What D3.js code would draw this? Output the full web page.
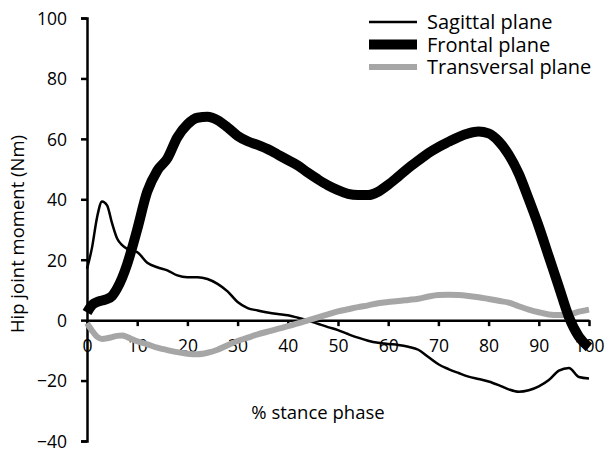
<!DOCTYPE html>
<html lang="en">
<head>
<meta charset="UTF-8">
<title>Hip joint moment</title>
<style>
  body { margin: 0; background: #fff; }
  text { font-family: "Open Sans", sans-serif; fill: #000; }
</style>
</head>
<body>
<script src="https://cdn.jsdelivr.net/npm/d3@7"></script>
<script>
// % stance phase
var pct = [0, 1, 2, 3, 4, 5, 6, 7, 8, 9, 10, 12, 14, 16, 18, 20, 22, 24, 26, 28, 30, 32, 34, 36, 38, 40,
           42, 44, 46, 48, 50, 52, 54, 56, 58, 60, 62, 64, 66, 68, 70, 72, 74, 76, 78, 80,
           82, 84, 86, 88, 90, 92, 94, 96, 98, 100];

var sagittal = [17, 24, 34, 39.3, 38, 32, 27, 24.8, 23.6, 23, 22.5, 19, 17.5, 16.5, 14.8, 14.2, 14.2, 13.6, 12, 9.5,
                6, 4, 3.2, 2.5, 2, 1.6, 0.8, -0.1, -1.2, -2.3, -3.3, -4.6, -5.8, -6.8, -7.5, -7.9, -8.2, -8.8, -9.8, -12.2,
                -14.6, -16.2, -17.5, -18.7, -19.5, -20.3, -21.5, -22.9, -23.7, -23.2, -21.9, -19.8, -16.7, -15.8, -18.8, -19.3];

var frontal = [2.5, 5, 6, 6.5, 7, 8, 10.5, 14, 18.5, 24, 30, 42.5, 49.5, 53.5, 60.5, 64.8, 67, 67.3, 66.2, 63.8,
               61, 59.2, 58, 56.6, 54.8, 53, 51.2, 48.8, 46.6, 44.6, 43, 41.8, 41.4, 41.4, 42.5, 44.8, 47.5, 50.3, 52.8, 55.3,
               57.3, 59, 60.6, 61.8, 62.4, 61.8, 59.2, 54.8, 48.5, 40, 31, 21, 11, 1, -5.5, -9];

var transversal = [-1, -3.5, -5.5, -6.2, -6, -5.6, -5.2, -5.1, -5.6, -6.3, -7, -8, -9.1, -9.9, -10.6, -11.1, -11.3, -10.8, -9.8, -8.3,
                   -6.9, -5.8, -4.7, -3.8, -2.9, -2, -1.1, -0.1, 0.9, 1.9, 2.9, 3.6, 4.3, 4.9, 5.6, 6, 6.3, 6.7, 7.1, 7.8,
                   8.3, 8.4, 8.3, 8, 7.6, 7, 6.4, 5.8, 4.6, 3.5, 2.6, 1.9, 1.7, 1.9, 2.8, 3.5];

var xTicks = [0, 10, 20, 30, 40, 50, 60, 70, 80, 90, 100];
var yTicks = [-40, -20, 0, 20, 40, 60, 80, 100];

var seriesNames = ["Sagittal plane", "Frontal plane", "Transversal plane"];
var seriesData = [sagittal, frontal, transversal];
var seriesColor = ["#000", "#000", "#a6a6a6"];
var seriesWidth = [2.5, 10, 6];

var width = 611, height = 462;
var svg = d3.select("body").append("svg")
  .attr("width", width)
  .attr("height", height);

var x = d3.scaleLinear().domain([0, 100]).range([87, 589]);
var y = d3.scaleLinear().domain([-40, 100]).range([441, 18]);

// y axis
var yAxis = d3.axisLeft(y).tickValues(yTicks).tickSize(6).tickPadding(14);
var gy = svg.append("g").attr("transform", "translate(" + x(0) + ",0)").call(yAxis);
gy.select(".domain").attr("stroke-width", 2.5);
gy.selectAll(".tick line").attr("stroke-width", 2.5);
gy.selectAll(".tick text").style("font-size", "17.5px").attr("dy", "0.36em");

// x axis at y = 0
var xAxis = d3.axisBottom(x).tickValues(xTicks).tickSize(6).tickSizeOuter(0).tickPadding(13);
var gx = svg.append("g").attr("transform", "translate(0," + y(0) + ")").call(xAxis);
gx.select(".domain").attr("stroke-width", 2.5);
gx.selectAll(".tick line").attr("stroke-width", 2.5);
gx.selectAll(".tick text").style("font-size", "17.5px");

var line = d3.line()
  .x(function(d, i) { return x(pct[i]); })
  .y(function(d) { return y(d); })
  .curve(d3.curveMonotoneX);

// draw order: sagittal, transversal, frontal
[0, 2, 1].forEach(function(k) {
  svg.append("path")
    .datum(seriesData[k])
    .attr("d", line)
    .attr("fill", "none")
    .attr("stroke", seriesColor[k])
    .attr("stroke-width", seriesWidth[k])
    .attr("stroke-linejoin", "round");
});

// legend
var legend = svg.append("g");
seriesNames.forEach(function(name, i) {
  var ly = 22 + i * 22.5;
  legend.append("line")
    .attr("x1", 369).attr("x2", 417)
    .attr("y1", ly).attr("y2", ly)
    .attr("stroke", seriesColor[i])
    .attr("stroke-width", seriesWidth[i]);
  legend.append("text")
    .attr("x", 427).attr("y", ly)
    .attr("dy", "0.36em")
    .style("font-size", "20px")
    .text(name);
});

// axis titles
svg.append("text")
  .attr("transform", "translate(24,234) rotate(-90)")
  .attr("text-anchor", "middle")
  .style("font-size", "18.5px")
  .text("Hip joint moment (Nm)");

svg.append("text")
  .attr("x", 318).attr("y", 419)
  .attr("text-anchor", "middle")
  .style("font-size", "18.5px")
  .text("% stance phase");
</script>
</body>
</html>
